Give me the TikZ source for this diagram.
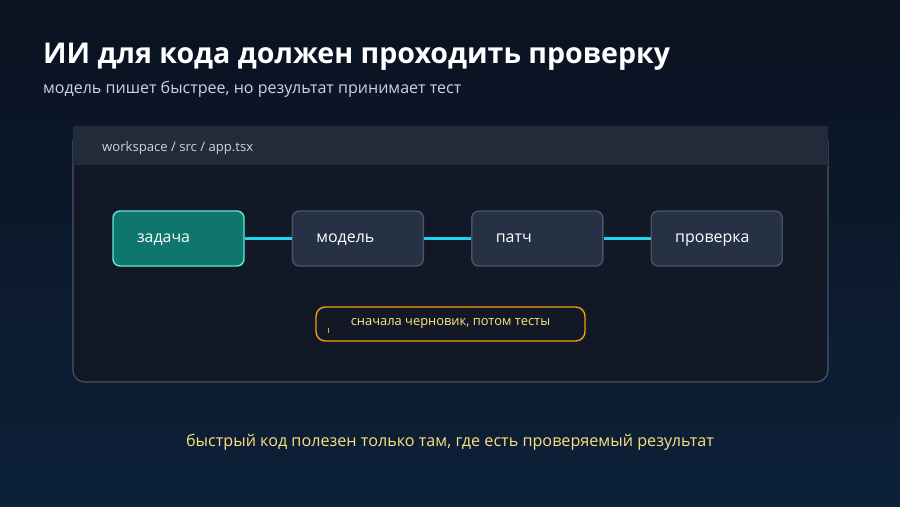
\documentclass[tikz,border=0pt]{standalone}
\usepackage{fontspec}
\setmainfont{Open Sans}
\usetikzlibrary{positioning}
\definecolor{bgtop}{HTML}{0B1220}
\definecolor{bgbot}{HTML}{0C2139}
\definecolor{barbg}{HTML}{222B3A}
\definecolor{panelbg}{HTML}{131826}
\definecolor{panelline}{HTML}{4A5568}
\definecolor{boxbg}{HTML}{263244}
\definecolor{boxline}{HTML}{475569}
\definecolor{taskbg}{HTML}{0F766E}
\definecolor{taskline}{HTML}{5EEAD4}
\definecolor{wire}{HTML}{22D3EE}
\definecolor{note}{HTML}{F59E0B}
\definecolor{notetext}{HTML}{FDE68A}
\definecolor{subtext}{HTML}{CBD5E1}
\begin{document}
\begin{tikzpicture}[x=0.03cm, y=-0.03cm]
\tikzset{
  stage/.style={rectangle, rounded corners=6pt, draw=boxline, line width=1.2pt, fill=boxbg,
    minimum width=131*0.03cm, minimum height=55*0.03cm, text=white, font=\fontsize{13.6}{16}\selectfont,
    inner xsep=24*0.03cm, text width=83*0.03cm, align=left, text height=1.6ex, text depth=0.4ex},
  task/.style={stage, fill=taskbg, draw=taskline},
  wire/.style={draw=wire, line width=3pt}
}
\shade[top color=bgtop, bottom color=bgbot] (0,0) rectangle (900,506);
\useasboundingbox (0,0) rectangle (900,506);

\node (title) [anchor=west, text=white, font=\bfseries\fontsize{24.4}{28}\selectfont] at (39,57) {ИИ для кода должен проходить проверку};
\node (sub) [anchor=west, text=subtext, font=\fontsize{13.7}{16}\selectfont] at (39,89) {модель пишет быстрее, но результат принимает тест};

% panel
\filldraw[fill=panelbg, draw=panelline, line width=1pt, rounded corners=10pt] (73,140) -- (73,382) -- (828,382) -- (828,140);
\fill[panelbg] (73.5,140) rectangle (827.5,166);
\fill[barbg] (73,126) rectangle (828,165);
\node (path) [anchor=west, text=subtext, font=\fontsize{11.2}{13}\selectfont] at (98,148) {workspace / src / app.tsx};

% stages
\node (task) [task] at (178.5,238.5) {задача};
\node (model) [stage, right=47*0.03cm of task] {модель};
\node (patch) [stage, right=47*0.03cm of model] {патч};
\node (check) [stage, right=47*0.03cm of patch] {проверка};

\draw [wire] (task) -- (model);
\draw [wire] (model) -- (patch);
\draw [wire] (patch) -- (check);

% note
\node (note) [rectangle, rounded corners=8pt, draw=note, line width=1.2pt, fill=panelbg,
  minimum width=269*0.03cm, minimum height=34*0.03cm, text=notetext, font=\fontsize{11}{13}\selectfont]
  at (450.5,324) {сначала черновик, потом тесты};
\draw [note, line width=0.8pt] (328,328) -- (328,333);

\node (bottom) [text=notetext!90!note, font=\fontsize{13.8}{16}\selectfont] at (450,442) {быстрый код полезен только там, где есть проверяемый результат};
\end{tikzpicture}
\end{document}
